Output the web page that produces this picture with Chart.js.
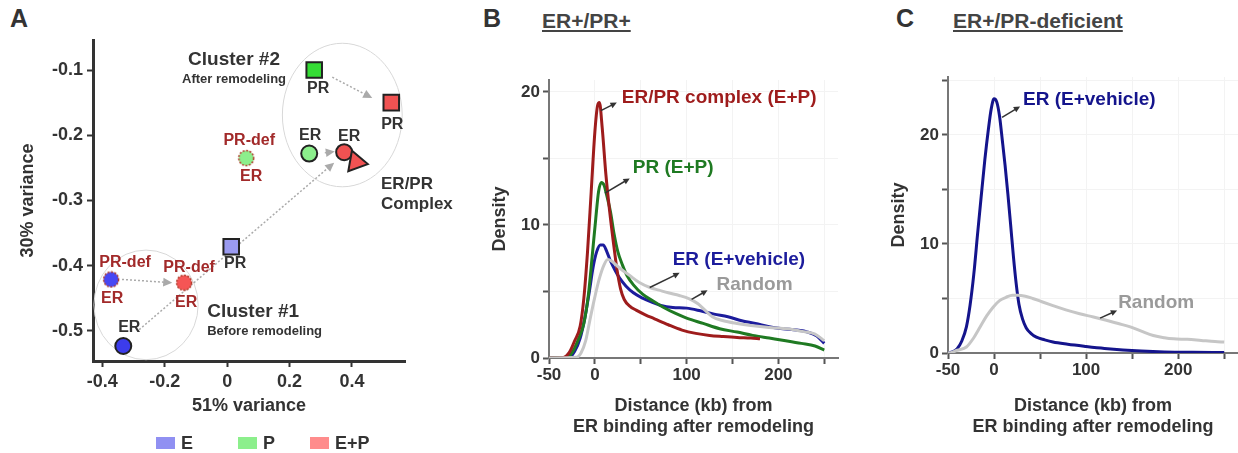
<!DOCTYPE html>
<html>
<head>
<meta charset="utf-8">
<title>ER/PR remodeling</title>
<script src="https://cdn.jsdelivr.net/npm/chart.js@4.4.1/dist/chart.umd.min.js"></script>
<style>
  body { margin: 0; background: #fff; width: 1238px; height: 453px; position: relative; overflow: hidden;
         font-family: 'Liberation Sans', Arial, sans-serif; color: #333; }
  canvas { position: absolute; top: 0; }
  .tag { position: absolute; top: 4px; font-weight: bold; font-size: 25px; color: #333; }
  .head { position: absolute; top: 9px; font-weight: bold; font-size: 21px; color: #444; text-decoration: underline; }
  .key { position: absolute; top: 434px; font-weight: bold; font-size: 18px; line-height: 18px; color: #333; }
  .key i { display: inline-block; width: 19px; height: 12px; margin-right: 6px; vertical-align: 0px; }
</style>
</head>
<body>
<div class="tag" style="left:10px">A</div>
<div class="tag" style="left:483px">B</div>
<div class="tag" style="left:896px">C</div>
<div class="head" style="left:542px">ER+/PR+</div>
<div class="head" style="left:953px">ER+/PR-deficient</div>

<canvas id="pca" width="470" height="453" style="left:0"></canvas>
<canvas id="both" width="370" height="453" style="left:470px"></canvas>
<canvas id="prdef" width="358" height="453" style="left:880px"></canvas>

<div class="key" style="left:156px"><i style="background:#9090f2"></i>E</div>
<div class="key" style="left:238px"><i style="background:#8cef8c"></i>P</div>
<div class="key" style="left:310px"><i style="background:#ff8c8c"></i>E+P</div>

<script>
// --- Panel A: PCA of binding profiles ---
const eX = [-0.333, -0.372, 0.013];
const eY = [-0.523, -0.421, -0.371];
const pX = [0.263, 0.061, 0.279];
const pY = [-0.228, -0.235, -0.100];
const epX = [0.375, -0.138, 0.526, 0.413];
const epY = [-0.226, -0.426, -0.150, -0.241];
const xTicksA = [-0.4, -0.2, 0, 0.2, 0.4];
const yTicksA = [-0.5, -0.4, -0.3, -0.2, -0.1];

// --- Panel B: ER+/PR+ densities ---
const complexX = [-50, -35, -28, -22, -16, -12, -8, -4, 0, 3, 5, 8, 12, 16, 20, 24, 28, 32, 38, 45, 55, 65, 80, 95, 110, 125, 140, 155, 170, 180];
const complexY = [0, 0.02, 0.4, 1.3, 2.4, 4.5, 8.0, 12.5, 17.0, 19.0, 19.2, 17.3, 13.8, 11.1, 8.8, 6.7, 5.2, 4.4, 3.9, 3.6, 3.25, 2.95, 2.5, 2.1, 1.85, 1.7, 1.62, 1.55, 1.5, 1.45];
const prX = [-50, -30, -24, -18, -12, -7, -3, 1, 4, 7, 10, 13, 17, 21, 25, 30, 35, 42, 52, 63, 75, 88, 100, 118, 136, 155, 172, 190, 208, 225, 240, 250];
const prY = [0, 0.05, 0.5, 1.4, 2.6, 4.8, 7.6, 10.5, 12.5, 13.2, 13.0, 12.2, 11.0, 9.3, 8.0, 7.0, 6.2, 5.5, 4.8, 4.3, 3.8, 3.35, 3.0, 2.6, 2.2, 1.95, 1.7, 1.5, 1.3, 1.1, 0.9, 0.6];
const erX = [-50, -28, -22, -16, -11, -6, -2, 2, 6, 9, 13, 17, 22, 27, 34, 42, 52, 62, 72, 85, 100, 115, 130, 145, 160, 175, 190, 205, 220, 232, 242, 250];
const erY = [0, 0.05, 0.5, 1.5, 3.0, 5.0, 6.8, 8.0, 8.5, 8.5, 8.0, 7.3, 6.6, 6.0, 5.4, 4.9, 4.5, 4.2, 3.95, 3.8, 3.75, 3.55, 3.3, 3.1, 2.8, 2.6, 2.35, 2.2, 2.1, 1.95, 1.65, 1.1];
const randX = [-50, -20, -15, -10, -5, 0, 5, 10, 14, 18, 23, 30, 38, 48, 60, 70, 80, 92, 103, 112, 120, 128, 140, 155, 170, 190, 210, 226, 240, 250];
const randY = [0, 0.05, 0.4, 1.3, 3.0, 4.6, 6.0, 7.0, 7.4, 7.3, 7.0, 6.6, 6.2, 5.7, 5.3, 5.1, 4.9, 4.7, 4.45, 4.1, 3.6, 3.1, 2.8, 2.6, 2.45, 2.3, 2.2, 2.0, 1.8, 1.3];

// --- Panel C: ER+/PR-deficient densities ---
const defErX = [-50, -45, -40, -35, -30, -26, -22, -18, -14, -10, -6, -3, 0, 3, 6, 9, 12, 15, 18, 21, 24, 27, 31, 35, 40, 46, 55, 64, 80, 100, 120, 140, 160, 185, 215, 250];
const defErY = [0, 0.1, 0.4, 1.1, 2.4, 4.4, 7.2, 10.8, 14.3, 17.7, 20.6, 22.4, 23.3, 23.0, 21.7, 19.5, 17.2, 14.6, 11.8, 8.9, 6.4, 4.5, 3.1, 2.3, 1.8, 1.45, 1.2, 1.0, 0.8, 0.6, 0.42, 0.28, 0.18, 0.1, 0.06, 0.04];
const defRandX = [-50, -46, -40, -30, -22, -15, -8, -1, 6, 13, 20, 26, 34, 42, 52, 64, 78, 93, 108, 122, 135, 148, 160, 173, 185, 195, 210, 225, 240, 250];
const defRandY = [0, 0.05, 0.25, 0.55, 1.4, 2.4, 3.4, 4.2, 4.8, 5.1, 5.3, 5.3, 5.2, 5.0, 4.7, 4.35, 3.95, 3.6, 3.3, 3.0, 2.7, 2.4, 2.0, 1.6, 1.4, 1.3, 1.25, 1.15, 1.05, 1.0];
const distTickLabels = [-50, 0, 100, 200];

const REGULAR = "'Liberation Sans', Arial, sans-serif";
const DARK = '#333';
const DEF_RED = '#a22a2a';

Chart.defaults.font.family = REGULAR;
Chart.defaults.animation = false;

const pairs = (xs, ys) => xs.map((x, i) => ({ x: x, y: ys[i] }));

// dotted-outline dot used for the PR-deficient samples
function dottedDot(fill) {
  const c = document.createElement('canvas');
  c.width = 18; c.height = 18;
  const g = c.getContext('2d');
  g.beginPath();
  g.arc(9, 9, 7.5, 0, Math.PI * 2);
  g.fillStyle = fill;
  g.fill();
  g.setLineDash([2, 1.5]);
  g.lineWidth = 1.5;
  g.strokeStyle = '#b03a2a';
  g.stroke();
  return c;
}

function drawArrow(ctx, x0, y0, x1, y1, a) {
  const ang = Math.atan2(y1 - y0, x1 - x0);
  const len = a.head || 8;
  ctx.save();
  ctx.strokeStyle = a.color;
  ctx.fillStyle = a.color;
  ctx.lineWidth = a.width || 1.5;
  if (a.dash) ctx.setLineDash(a.dash);
  ctx.beginPath();
  ctx.moveTo(x0, y0);
  ctx.lineTo(x1 - Math.cos(ang) * len * 0.8, y1 - Math.sin(ang) * len * 0.8);
  ctx.stroke();
  ctx.setLineDash([]);
  ctx.beginPath();
  ctx.moveTo(x1, y1);
  ctx.lineTo(x1 - Math.cos(ang - 0.45) * len, y1 - Math.sin(ang - 0.45) * len);
  ctx.lineTo(x1 - Math.cos(ang + 0.45) * len, y1 - Math.sin(ang + 0.45) * len);
  ctx.closePath();
  ctx.fill();
  ctx.restore();
}

// ellipses, arrows and text placed in data units through the chart's own scales
const annotate = {
  id: 'annotate',
  beforeDatasetsDraw(chart, args, opts) {
    const { ctx, scales: { x, y } } = chart;
    (opts.ellipses || []).forEach(e => {
      const cx = x.getPixelForValue(e.x), cy = y.getPixelForValue(e.y);
      ctx.save();
      ctx.strokeStyle = '#d8d8d8';
      ctx.lineWidth = 1;
      ctx.beginPath();
      ctx.ellipse(cx, cy, Math.abs(x.getPixelForValue(e.x + e.rx) - cx), Math.abs(y.getPixelForValue(e.y + e.ry) - cy), 0, 0, Math.PI * 2);
      ctx.stroke();
      ctx.restore();
    });
    if (!opts.arrowsOnTop) {
      (opts.arrows || []).forEach(a => drawArrow(ctx, x.getPixelForValue(a.x0), y.getPixelForValue(a.y0),
        x.getPixelForValue(a.x1), y.getPixelForValue(a.y1), a));
    }
  },
  afterDatasetsDraw(chart, args, opts) {
    const { ctx, scales: { x, y } } = chart;
    if (opts.arrowsOnTop) {
      (opts.arrows || []).forEach(a => drawArrow(ctx, x.getPixelForValue(a.x0), y.getPixelForValue(a.y0),
        x.getPixelForValue(a.x1), y.getPixelForValue(a.y1), a));
    }
    ctx.save();
    ctx.textBaseline = 'middle';
    (opts.texts || []).forEach(t => {
      ctx.font = 'bold ' + t.size + 'px ' + REGULAR;
      ctx.fillStyle = t.color || DARK;
      ctx.textAlign = t.align || 'left';
      ctx.fillText(t.text, x.getPixelForValue(t.x), y.getPixelForValue(t.y));
    });
    (opts.notes || []).forEach(n => {
      const pt = chart.getDatasetMeta(n[0]).data[n[1]];
      ctx.font = 'bold ' + (n[6] || 16) + 'px ' + REGULAR;
      ctx.fillStyle = n[5];
      ctx.textAlign = n[7] || 'center';
      ctx.fillText(n[2], pt.x + n[3], pt.y + n[4]);
    });
    ctx.restore();
  }
};

// ---------------- Panel A ----------------
const axisA = {
  grid: { display: true, drawOnChartArea: false, tickLength: 6, tickColor: DARK, tickWidth: 2 },
  border: { display: true, color: DARK, width: 3 }
};

new Chart(document.getElementById('pca'), {
  type: 'scatter',
  data: {
    datasets: [
      {
        label: 'E', data: pairs(eX, eY),
        pointStyle: ['circle', dottedDot('#4747f4'), 'rect'],
        backgroundColor: ['#3c3cec', '#4747f4', '#9a9af0'],
        borderColor: '#222', borderWidth: 2, pointRadius: [8, 8, 11]
      },
      {
        label: 'P', data: pairs(pX, pY),
        pointStyle: ['circle', dottedDot('#8cef8c'), 'rect'],
        backgroundColor: ['#8cef8c', '#8cef8c', '#35dd35'],
        borderColor: '#222', borderWidth: 2, pointRadius: [8, 8, 11]
      },
      {
        label: 'E+P', data: pairs(epX, epY),
        pointStyle: ['circle', dottedDot('#f55555'), 'rect', 'triangle'],
        rotation: [0, 0, 0, 100],
        backgroundColor: '#f05252',
        borderColor: '#222', borderWidth: 2, pointRadius: [8, 8, 11, 12]
      }
    ]
  },
  options: {
    responsive: false,
    events: [],
    layout: { padding: { left: 0, top: 40, right: 65, bottom: 0 } },
    plugins: {
      legend: { display: false },
      tooltip: { enabled: false },
      annotate: {
        ellipses: [
          { x: 0.369, y: -0.169, rx: 0.192, ry: 0.110 },
          { x: -0.26, y: -0.460, rx: 0.167, ry: 0.084 }
        ],
        arrows: [
          { x0: 0.337, y0: -0.111, x1: 0.465, y1: -0.143, color: '#aaa', dash: [2, 2], head: 10 },
          { x0: 0.313, y0: -0.227, x1: 0.345, y1: -0.225, color: '#aaa', dash: [2, 2], head: 10 },
          { x0: -0.282, y0: -0.498, x1: 0.343, y1: -0.242, color: '#aaa', dash: [2, 2], head: 10 },
          { x0: -0.337, y0: -0.421, x1: -0.176, y1: -0.426, color: '#aaa', dash: [2, 2], head: 10 }
        ],
        texts: [
          { x: 0.022, y: -0.085, text: 'Cluster #2', size: 19, align: 'center' },
          { x: 0.022, y: -0.115, text: 'After remodeling', size: 13, align: 'center' },
          { x: -0.064, y: -0.470, text: 'Cluster #1', size: 19 },
          { x: -0.064, y: -0.501, text: 'Before remodeling', size: 13 }
        ],
        notes: [
          [0, 0, 'ER', 6, -18, DARK],
          [0, 1, 'PR-def', 14, -17, DEF_RED],
          [0, 1, 'ER', 1, 19, DEF_RED],
          [0, 2, 'PR', 4, 17, DARK],
          [1, 0, 'ER', 1, -18, DARK],
          [1, 1, 'PR-def', 3, -17, DEF_RED],
          [1, 1, 'ER', 5, 19, DEF_RED],
          [1, 2, 'PR', 4, 19, DARK],
          [2, 0, 'ER', 5, -16, DARK],
          [2, 1, 'PR-def', 5, -15, DEF_RED],
          [2, 1, 'ER', 2, 20, DEF_RED],
          [2, 2, 'PR', 1, 22, DARK],
          [2, 3, 'ER/PR', 25, 22, DARK, 17, 'left'],
          [2, 3, 'Complex', 25, 42, DARK, 17, 'left']
        ]
      }
    },
    scales: {
      x: Object.assign({
        type: 'linear', min: -0.43, max: 0.57,
        afterFit: s => { s.height = 92; },
        afterBuildTicks: s => { s.ticks = xTicksA.map(v => ({ value: v })); },
        ticks: { color: DARK, padding: 4, maxRotation: 0, autoSkip: false, font: { size: 18, weight: 'bold' },
                 callback: v => Math.abs(v) < 1e-9 ? '0' : v.toFixed(1) },
        title: { display: true, text: '51% variance', color: DARK, font: { size: 18, weight: 'bold' }, padding: { top: 0, bottom: 36 } }
      }, axisA),
      y: Object.assign({
        type: 'linear', min: -0.546, max: -0.054,
        afterFit: s => { s.width = 93; },
        afterBuildTicks: s => { s.ticks = yTicksA.map(v => ({ value: v })); },
        ticks: { color: DARK, padding: 4, autoSkip: false, font: { size: 18, weight: 'bold' },
                 callback: v => v.toFixed(1) },
        title: { display: true, text: '30% variance', color: DARK, font: { size: 18, weight: 'bold' }, padding: { top: 17, bottom: 0 } }
      }, axisA)
    }
  },
  plugins: [annotate]
});

// ---------------- Panels B and C ----------------
function densityScales(yMax, yWidth, xHeight, titlePad) {
  return {
    x: {
      type: 'linear', min: -50, max: 265,
      afterFit: s => { s.height = xHeight; },
      ticks: { stepSize: 50, includeBounds: false, maxRotation: 0, autoSkip: false, padding: 1, color: DARK,
               font: { size: 17, weight: 'bold' },
               callback: v => distTickLabels.includes(v) ? String(v) : '' },
      grid: { color: '#f3f3f3', tickColor: '#555', tickLength: 6, tickWidth: 2 },
      border: { color: '#777', width: 2 },
      title: { display: true, text: ['Distance (kb) from', 'ER binding after remodeling'], color: DARK,
               font: { size: 18, weight: 'bold', lineHeight: 1.2 }, padding: { top: 0, bottom: 15 } }
    },
    y: {
      type: 'linear', min: 0, max: yMax,
      afterFit: s => { s.width = yWidth; },
      ticks: { stepSize: 5, includeBounds: false, autoSkip: false, padding: 3, color: DARK,
               font: { size: 17, weight: 'bold' },
               callback: v => v % 10 === 0 ? String(v) : '' },
      grid: { color: '#f3f3f3', tickColor: '#555', tickLength: 6, tickWidth: 2 },
      border: { color: '#777', width: 2 },
      title: { display: true, text: 'Density', color: DARK,
               font: { size: 18, weight: 'bold' }, padding: { top: titlePad, bottom: 0 } }
    }
  };
}

const curve = (label, xs, ys, color) => ({
  label: label, data: pairs(xs, ys), borderColor: color, backgroundColor: color,
  borderWidth: 3, pointRadius: 0, cubicInterpolationMode: 'monotone', fill: false
});

new Chart(document.getElementById('both'), {
  type: 'line',
  data: {
    datasets: [
      curve('Random', randX, randY, '#c6c6c6'),
      curve('ER/PR complex (E+P)', complexX, complexY, '#9e1c1c'),
      curve('PR (E+P)', prX, prY, '#1f7a22'),
      curve('ER (E+vehicle)', erX, erY, '#1c1c9c')
    ]
  },
  options: {
    responsive: false,
    events: [],
    layout: { padding: { left: 0, top: 80, right: 2, bottom: 0 } },
    plugins: {
      legend: { display: false },
      tooltip: { enabled: false },
      annotate: {
        arrowsOnTop: true,
        arrows: [
          { x0: 6.5, y0: 18.6, x1: 23.9, y1: 19.2, color: DARK, head: 7 },
          { x0: 10.9, y0: 12.4, x1: 38, y1: 13.5, color: DARK, head: 7 },
          { x0: 59.8, y0: 5.3, x1: 92.4, y1: 6.4, color: DARK, head: 7 },
          { x0: 105.4, y0: 4.4, x1: 122.8, y1: 5.1, color: DARK, head: 7 }
        ],
        texts: [
          { x: 29.3, y: 19.6, text: 'ER/PR complex (E+P)', size: 19, color: '#9e1c1c' },
          { x: 41.3, y: 14.3, text: 'PR (E+P)', size: 19, color: '#1f7a22' },
          { x: 84.8, y: 7.4, text: 'ER (E+vehicle)', size: 19, color: '#1c1c9c' },
          { x: 132.6, y: 5.5, text: 'Random', size: 19, color: '#9a9a9a' }
        ]
      }
    },
    scales: densityScales(20.9, 79, 95, 19)
  },
  plugins: [annotate]
});

new Chart(document.getElementById('prdef'), {
  type: 'line',
  data: {
    datasets: [
      curve('Random', defRandX, defRandY, '#c6c6c6'),
      curve('ER (E+vehicle)', defErX, defErY, '#14148c')
    ]
  },
  options: {
    responsive: false,
    events: [],
    layout: { padding: { left: 0, top: 77, right: 0, bottom: 0 } },
    plugins: {
      legend: { display: false },
      tooltip: { enabled: false },
      annotate: {
        arrowsOnTop: true,
        arrows: [
          { x0: 8.7, y0: 21.6, x1: 28.3, y1: 22.6, color: DARK, head: 7 },
          { x0: 115.2, y0: 3.2, x1: 133.7, y1: 3.9, color: DARK, head: 7 }
        ],
        texts: [
          { x: 31.5, y: 23.2, text: 'ER (E+vehicle)', size: 19, color: '#14148c' },
          { x: 134.8, y: 4.6, text: 'Random', size: 19, color: '#9a9a9a' }
        ]
      }
    },
    scales: densityScales(25.3, 68, 100, 8)
  },
  plugins: [annotate]
});
</script>
</body>
</html>
